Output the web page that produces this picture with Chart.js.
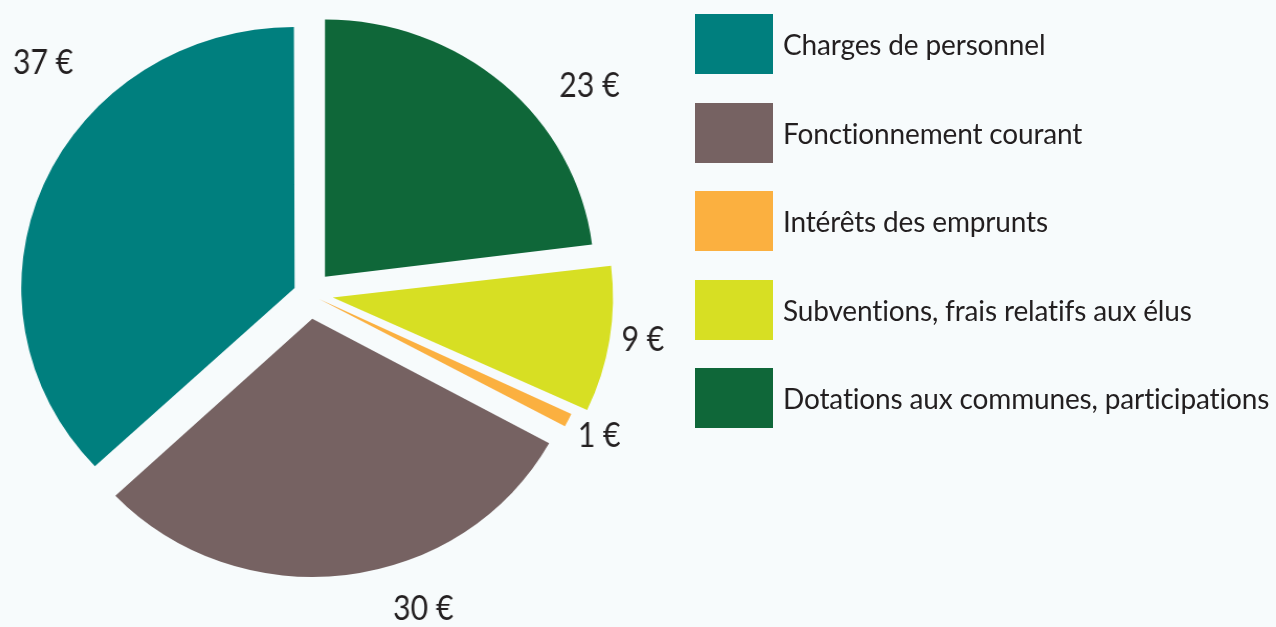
<!DOCTYPE html>
<html>
<head>
<meta charset="utf-8">
<script src="https://cdn.jsdelivr.net/npm/chart.js@4.4.1/dist/chart.umd.min.js"></script>
<style>
  html, body { margin: 0; padding: 0; background: #f7fbfc; }
  body { width: 1276px; height: 627px; position: relative; overflow: hidden; font-family: Lato, sans-serif; }
  /* the source pie is slightly wider than tall */
  #pieWrap { position: absolute; left: 0; top: 0; width: 680px; height: 627px; transform: scaleX(1.047); transform-origin: 309px 0; }
  #legend { position: absolute; left: 695px; top: 14px; margin: 0; padding: 0; list-style: none; }
  #legend li { display: flex; align-items: center; height: 60px; margin-bottom: 28.6px; }
  #legend .box { width: 78px; height: 60px; margin-right: 10px; flex: none; }
  #legend .txt { font-size: 28px; letter-spacing: -0.15px; line-height: 1; color: #231f20; white-space: nowrap; }
</style>
</head>
<body>
<div id="pieWrap"><canvas id="pie" width="680" height="627"></canvas></div>
<ul id="legend"></ul>
<script>
const categories = [
  'Charges de personnel',
  'Fonctionnement courant',
  'Intérêts des emprunts',
  'Subventions, frais relatifs aux élus',
  'Dotations aux communes, participations'
];
const amounts = [37, 30, 1, 9, 23];
const colors = ['#007f7e', '#766262', '#fbb040', '#d7df23', '#0f6739'];

// explode distance of each slice (chart.js divides offset by 4)
const sliceOffsets = [60, 100, 43, 92, 92];
// where each value label sits: turn from slice middle (deg), distance from centre (px)
const labelPlace = [
  { turn: 19, dist: 344 },
  { turn: -12, dist: 332 },
  { turn: 0, dist: 311 },
  { turn: -1, dist: 322 },
  { turn: 10.6, dist: 340 }
];

// slices run counter-clockwise from the top in the source, so feed them reversed
const rev = arr => arr.slice().reverse();

const LABEL_SIZE = 34;

const valueLabels = {
  id: 'valueLabels',
  afterDatasetsDraw(chart) {
    const ctx = chart.ctx;
    const meta = chart.getDatasetMeta(0);
    const n = meta.data.length;
    ctx.save();
    ctx.fillStyle = '#231f20';
    ctx.font = LABEL_SIZE + 'px Lato';
    ctx.textAlign = 'center';
    ctx.textBaseline = 'alphabetic';
    meta.data.forEach((arc, i) => {
      const k = n - 1 - i;
      const place = labelPlace[k];
      const p = arc.getProps(['x', 'y', 'startAngle', 'endAngle'], true);
      const a = (p.startAngle + p.endAngle) / 2 + place.turn * Math.PI / 180;
      const cx = p.x + Math.cos(a) * place.dist;
      const cy = p.y + Math.sin(a) * place.dist;
      ctx.save();
      ctx.translate(cx, cy + LABEL_SIZE * 0.36);
      ctx.scale(0.85, 1);
      ctx.fillText(chart.data.datasets[0].data[i] + ' €', 0, 0);
      ctx.restore();
    });
    ctx.restore();
  }
};

const chart = new Chart(document.getElementById('pie'), {
  type: 'pie',
  data: {
    labels: rev(categories),
    datasets: [{
      data: rev(amounts),
      backgroundColor: rev(colors),
      offset: rev(sliceOffsets),
      borderWidth: 0
    }]
  },
  options: {
    responsive: false,
    animation: false,
    events: [],
    radius: 257,
    layout: { padding: { left: 0, right: 62, top: 0, bottom: 39 } },
    plugins: { legend: { display: false }, tooltip: { enabled: false } }
  },
  plugins: [valueLabels]
});

// legend built from the chart's own legend items, in source order
const items = chart.options.plugins.legend.labels.generateLabels(chart).reverse();
const ul = document.getElementById('legend');
items.forEach(it => {
  const li = document.createElement('li');
  const box = document.createElement('span');
  box.className = 'box';
  box.style.background = it.fillStyle;
  const txt = document.createElement('span');
  txt.className = 'txt';
  txt.textContent = it.text;
  li.appendChild(box);
  li.appendChild(txt);
  ul.appendChild(li);
});
</script>
</body>
</html>
